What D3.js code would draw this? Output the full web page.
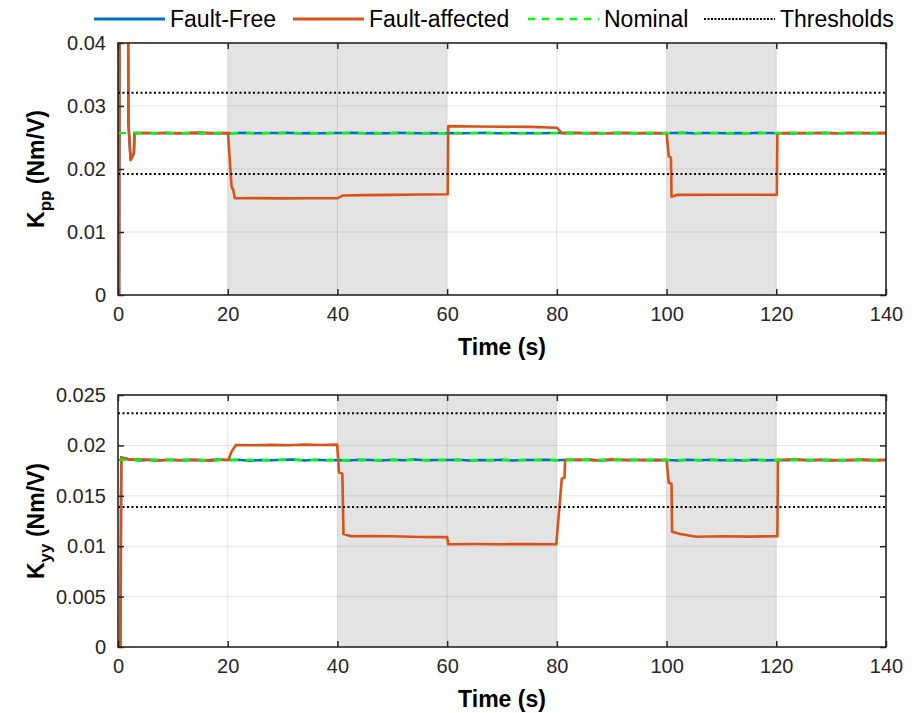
<!DOCTYPE html>
<html>
<head>
<meta charset="utf-8">
<script src="https://cdn.jsdelivr.net/npm/d3@7"></script>
<style>
  html, body { margin: 0; padding: 0; background: #fff; }
  svg { display: block; font-family: "Liberation Sans", Arial, Helvetica, sans-serif; }
</style>
</head>
<body>
<svg id="chart" width="916" height="713"></svg>
<script>
// ---- data ----
const xTicks = [0, 20, 40, 60, 80, 100, 120, 140];

// Roll gain K_pp
const kppYTicks = [0, 0.01, 0.02, 0.03, 0.04];
const kppYLabels = ["0", "0.01", "0.02", "0.03", "0.04"];
const kppFaultWindows = [[20, 60], [100, 120]];
const kppNominal = 0.0257;
const kppThresholds = [0.0192, 0.0321];
const kppFaultFree = [
  [0,0],[0.2,0],[0.3,0.06],[1.8,0.06],[1.9,0.0273],[2.3,0.0214],[2.9,0.0225],[3.0,0.0257],
  [5,0.02572],[7,0.02568],[9,0.02574],[11,0.02569],[13,0.0257],[15,0.02576],[17,0.02568],[19,0.02571],
  [21,0.02569],[23,0.02575],[25,0.02567],[27,0.02572],[29,0.0257],[31,0.02577],[33,0.02568],[35,0.02571],
  [37,0.02566],[39,0.02573],[41,0.0257],[43,0.02575],[45,0.02568],[47,0.02571],[49,0.02569],[51,0.02574],
  [53,0.0257],[55,0.02567],[57,0.02573],[59,0.02569],[61,0.02572],[63,0.02568],[65,0.02571],[67,0.02575],
  [69,0.02569],[71,0.0257],[73,0.02567],[75,0.02572],[77,0.02569],[79,0.02573],[81,0.0257],[83,0.02574],
  [85,0.02568],[87,0.02571],[89,0.02569],[91,0.02575],[93,0.0257],[95,0.02567],[97,0.02572],[99,0.02569],
  [101,0.02571],[103,0.02576],[105,0.02568],[107,0.0257],[109,0.02573],[111,0.02567],[113,0.02571],[115,0.02569],
  [117,0.02574],[119,0.0257],[121,0.02568],[123,0.02572],[125,0.02569],[127,0.02571],[129,0.02574],[131,0.02568],
  [133,0.0257],[135,0.02572],[137,0.02569],[139,0.02571],[140,0.0257]
];
const kppFaultAffected = [
  [0,0],[0.2,0],[0.3,0.06],[1.8,0.06],[1.9,0.0273],[2.3,0.0214],[2.9,0.0225],[3.0,0.0257],
  [6,0.02572],[10,0.02568],[14,0.02573],[18,0.02569],[20.05,0.0257],[20.7,0.0172],[21.0,0.0167],[21.3,0.01535],
  [25,0.01537],[30,0.01534],[35,0.01536],[40.0,0.01535],[40.3,0.0155],[41,0.0158],[45,0.01585],[50,0.0159],
  [55,0.01595],[60.1,0.0160],[60.2,0.0268],[65,0.02675],[70,0.0267],[75,0.02668],[80,0.02655],[80.9,0.0257],
  [85,0.02572],[90,0.02568],[95,0.02571],[100,0.0257],[100.4,0.0220],[100.8,0.0218],[100.9,0.0156],[102,0.0159],
  [110,0.01592],[120.1,0.0159],[120.2,0.0257],[125,0.02571],[130,0.02568],[135,0.02572],[140,0.0257]
];

// Yaw gain K_yy
const kyyYTicks = [0, 0.005, 0.01, 0.015, 0.02, 0.025];
const kyyYLabels = ["0", "0.005", "0.01", "0.015", "0.02", "0.025"];
const kyyFaultWindows = [[40, 80], [100, 120]];
const kyyNominal = 0.01855;
const kyyThresholds = [0.0139, 0.0232];
const kyyFaultFree = [
  [0,0],[0.4,0],[0.6,0.0188],[2,0.01862],[4,0.0185],[6,0.01858],[8,0.01852],[10,0.01857],[12,0.01849],
  [14,0.01856],[16,0.01853],[18,0.01859],[20,0.01854],[22,0.01857],[24,0.01848],[26,0.01856],[28,0.01852],
  [30,0.01858],[32,0.0186],[34,0.01851],[36,0.01857],[38,0.01853],[40,0.01856],[42,0.0185],[44,0.01858],
  [46,0.01854],[48,0.01849],[50,0.01857],[52,0.01853],[54,0.01859],[56,0.01852],[58,0.01856],[60,0.01854],
  [62,0.01858],[64,0.01851],[66,0.01856],[68,0.01853],[70,0.01857],[72,0.0185],[74,0.01856],[76,0.01854],
  [78,0.01858],[80,0.01852],[82,0.01857],[84,0.01853],[86,0.01859],[88,0.01851],[90,0.01856],[92,0.01854],
  [94,0.01857],[96,0.01852],[98,0.01858],[100,0.01855],[102,0.01849],[104,0.01857],[106,0.01852],[108,0.01858],
  [110,0.01853],[112,0.01856],[114,0.0185],[116,0.01857],[118,0.01853],[120,0.01856],[122,0.01852],[124,0.01858],
  [126,0.01854],[128,0.01857],[130,0.01851],[132,0.01856],[134,0.01853],[136,0.01858],[138,0.01854],[140,0.01855]
];
const kyyFaultAffected = [
  [0,0],[0.45,0],[0.6,0.0188],[2,0.01858],[3,0.01862],[5,0.0186],[7,0.01848],[9,0.01858],[11,0.01852],
  [13,0.0186],[15,0.01854],[17,0.01847],[19,0.01858],[20.1,0.01855],[20.7,0.01938],[21.5,0.02004],[25,0.02001],
  [28,0.02005],[31,0.02002],[34,0.02008],[37,0.02004],[39.95,0.02008],[40.3,0.0173],[40.9,0.0172],[41.1,0.0112],
  [42.5,0.01098],[46,0.01101],[50,0.01098],[55,0.01092],[60,0.0109],[60.2,0.0102],[65,0.01022],[70,0.0102],
  [75,0.01021],[79.9,0.0102],[80.9,0.0167],[81.4,0.0168],[81.5,0.01855],[84,0.0186],[87,0.0185],[90,0.01862],
  [93,0.01853],[96,0.01858],[98,0.0185],[100,0.01855],[100.4,0.0163],[100.9,0.0162],[101.0,0.01144],
  [102.5,0.01121],[105.4,0.01094],[110,0.01098],[115,0.01095],[120.2,0.011],[120.3,0.01855],[123,0.01862],
  [126,0.0185],[129,0.01858],[132,0.01852],[135,0.01859],[138,0.01851],[140,0.01856]
];

// ---- styling ----
const COLOR_FREE = "#0072BD";
const COLOR_FAULT = "#D95319";
const COLOR_NOMINAL = "#00FF00";
const TICK_FONT = 20;
const LABEL_FONT = 23;

const svg = d3.select("#chart");
const plotLeft = 118, plotRight = 886;

function drawPanel(cfg) {
  const x = d3.scaleLinear().domain([0, 140]).range([plotLeft, plotRight]);
  const y = d3.scaleLinear().domain([0, cfg.yMax]).range([cfg.bottom, cfg.top]);
  const g = svg.append("g");
  const clipId = "clip-" + cfg.id;
  svg.append("clipPath").attr("id", clipId).append("rect")
    .attr("x", plotLeft).attr("y", cfg.top)
    .attr("width", plotRight - plotLeft).attr("height", cfg.bottom - cfg.top);

  // fault windows
  g.selectAll("rect.win").data(cfg.windows).join("rect")
    .attr("x", d => x(d[0])).attr("y", cfg.top)
    .attr("width", d => x(d[1]) - x(d[0])).attr("height", cfg.bottom - cfg.top)
    .attr("fill", "#e3e3e3");

  // grid
  g.selectAll("line.gx").data(xTicks.slice(1, -1)).join("line")
    .attr("x1", d => x(d)).attr("x2", d => x(d)).attr("y1", cfg.top).attr("y2", cfg.bottom)
    .attr("stroke", "#000").attr("stroke-opacity", 0.1).attr("stroke-width", 1);
  g.selectAll("line.gy").data(cfg.yTicks.slice(1, -1)).join("line")
    .attr("y1", d => y(d)).attr("y2", d => y(d)).attr("x1", plotLeft).attr("x2", plotRight)
    .attr("stroke", "#000").attr("stroke-opacity", 0.1).attr("stroke-width", 1);

  const line = d3.line().x(d => x(d[0])).y(d => y(d[1]));
  const data = g.append("g").attr("clip-path", `url(#${clipId})`);
  data.append("path").datum(cfg.free).attr("d", line)
    .attr("fill", "none").attr("stroke", COLOR_FREE).attr("stroke-width", 2.5);
  data.append("path").datum(cfg.fault).attr("d", line)
    .attr("fill", "none").attr("stroke", COLOR_FAULT).attr("stroke-width", 2.6)
    .attr("stroke-linejoin", "round");
  data.append("line")
    .attr("x1", x(0)).attr("x2", x(140)).attr("y1", y(cfg.nominal)).attr("y2", y(cfg.nominal))
    .attr("stroke", COLOR_NOMINAL).attr("stroke-width", 2.4).attr("stroke-dasharray", "8,8");
  data.selectAll("line.th").data(cfg.thresholds).join("line")
    .attr("x1", x(0)).attr("x2", x(140)).attr("y1", d => y(d)).attr("y2", d => y(d))
    .attr("stroke", "#000").attr("stroke-width", 2).attr("stroke-dasharray", "2,2.5");

  // axes (ticks inward on all four sides)
  const tickLen = 6;
  const axB = g.append("g").attr("transform", `translate(0,${cfg.bottom})`)
    .call(d3.axisBottom(x).tickValues(xTicks).tickSize(-tickLen).tickPadding(12));
  const axT = g.append("g").attr("transform", `translate(0,${cfg.top})`)
    .call(d3.axisTop(x).tickValues(xTicks).tickSize(-tickLen).tickFormat(""));
  const axL = g.append("g").attr("transform", `translate(${plotLeft},0)`)
    .call(d3.axisLeft(y).tickValues(cfg.yTicks).tickSize(-tickLen).tickPadding(12)
      .tickFormat((d, i) => cfg.yLabels[i]));
  const axR = g.append("g").attr("transform", `translate(${plotRight},0)`)
    .call(d3.axisRight(y).tickValues(cfg.yTicks).tickSize(-tickLen).tickFormat(""));
  [axB, axT, axL, axR].forEach(a => {
    a.select(".domain").remove();
    a.selectAll(".tick line").attr("stroke", "#262626").attr("stroke-width", 1.5);
    a.selectAll("text").attr("font-size", TICK_FONT).attr("fill", "#262626")
      .attr("font-family", "Liberation Sans, Arial, sans-serif");
  });
  g.append("rect").attr("x", plotLeft).attr("y", cfg.top)
    .attr("width", plotRight - plotLeft).attr("height", cfg.bottom - cfg.top)
    .attr("fill", "none").attr("stroke", "#262626").attr("stroke-width", 1.6);

  // axis titles
  g.append("text").attr("x", (plotLeft + plotRight) / 2).attr("y", cfg.bottom + 60)
    .attr("text-anchor", "middle").attr("font-size", LABEL_FONT).attr("font-weight", "bold")
    .attr("fill", "#000").text("Time (s)");
  const yl = g.append("text")
    .attr("transform", `translate(44,${(cfg.top + cfg.bottom) / 2}) rotate(-90)`)
    .attr("text-anchor", "middle").attr("font-size", LABEL_FONT).attr("font-weight", "bold")
    .attr("fill", "#000");
  yl.append("tspan").text("K");
  yl.append("tspan").attr("dy", 7).attr("font-size", 17).text(cfg.sub);
  yl.append("tspan").attr("dy", -7).text(" (Nm/V)");
}

drawPanel({ id: "kpp", top: 43, bottom: 295, yMax: 0.04, yTicks: kppYTicks, yLabels: kppYLabels,
  windows: kppFaultWindows, nominal: kppNominal, thresholds: kppThresholds,
  free: kppFaultFree, fault: kppFaultAffected, sub: "pp" });
drawPanel({ id: "kyy", top: 395, bottom: 647, yMax: 0.025, yTicks: kyyYTicks, yLabels: kyyYLabels,
  windows: kyyFaultWindows, nominal: kyyNominal, thresholds: kyyThresholds,
  free: kyyFaultFree, fault: kyyFaultAffected, sub: "yy" });

// ---- legend ----
const legendItems = [
  { label: "Fault-Free", x: 94, color: COLOR_FREE, dash: null, w: 2.8 },
  { label: "Fault-affected", x: 293, color: COLOR_FAULT, dash: null, w: 2.8 },
  { label: "Nominal", x: 528, color: COLOR_NOMINAL, dash: "7,7", w: 2.4 },
  { label: "Thresholds", x: 704, color: "#000", dash: "2,1.5", w: 2 }
];
const lg = svg.append("g");
legendItems.forEach(d => {
  lg.append("line").attr("x1", d.x).attr("x2", d.x + 71).attr("y1", 19).attr("y2", 19)
    .attr("stroke", d.color).attr("stroke-width", d.w).attr("stroke-dasharray", d.dash);
  lg.append("text").attr("x", d.x + 76).attr("y", 27).attr("font-size", 23)
    .attr("fill", "#000").text(d.label);
});
</script>
</body>
</html>
